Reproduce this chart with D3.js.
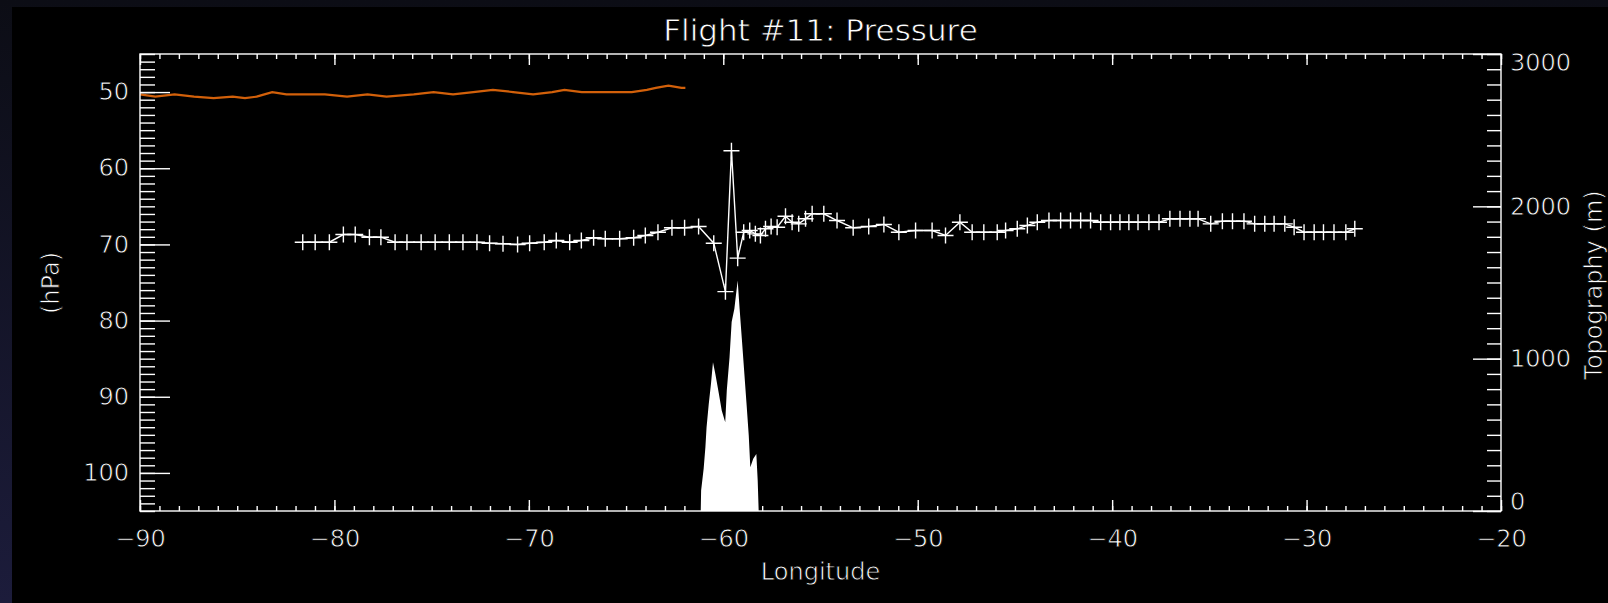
<!DOCTYPE html>
<html>
<head>
<meta charset="utf-8">
<script src="https://cdn.jsdelivr.net/npm/d3@7"></script>
<style>
  body { margin: 0; background: #000; }
  /* thin the glyphs a little with a black outline, closer to the vector font */
  text { font-family: "DejaVu Sans", sans-serif; fill: #fff; stroke: #000; stroke-width: 0.8px; }
</style>
</head>
<body>
<div id="chart"></div>
<script>
// Flight #11 pressure vs longitude, with topography on a second axis

const W = 1608, H = 603;
const margin = { top: 54, left: 140, right: 107, bottom: 92 };

// orange pressure trace (hPa)
const pressLon = [-90, -89.21, -88.22, -87.22, -86.21, -85.23, -84.6, -84.0, -83.6, -83.2,
    -82.47, -81.48, -80.49, -79.35, -78.3, -77.32, -75.92, -74.9, -73.9, -72.86,
    -71.85, -70.81, -69.78, -68.8, -68.17, -67.28, -66.05, -64.71, -63.93, -63.47,
    -62.82, -62.15, -61.95];
const pressVal = [50.3, 50.6, 50.3, 50.6, 50.8, 50.6, 50.8, 50.6, 50.3, 50.0,
    50.3, 50.3, 50.3, 50.6, 50.3, 50.6, 50.3, 50.0, 50.3, 50.0,
    49.7, 50.0, 50.3, 50.0, 49.7, 50.0, 50.0, 50.0, 49.7, 49.45,
    49.15, 49.45, 49.45];

// white trace with + markers (hPa)
const flightLon = [-81.63, -80.99, -80.26, -79.54, -78.93, -78.20, -77.61, -76.88, -76.27, -75.54,
    -74.82, -74.09, -73.39, -72.67, -72.02, -71.33, -70.58, -69.96, -69.21, -68.59,
    -67.90, -67.30, -66.67, -66.07, -65.33, -64.61, -64.01, -63.36, -62.64, -61.99,
    -61.27, -60.49, -59.89, -59.58, -59.26, -58.95, -58.64, -58.35, -58.09, -57.83,
    -57.54, -57.23, -56.80, -56.46, -56.12, -55.77, -55.43, -54.83, -54.15, -53.32,
    -52.52, -51.74, -50.97, -50.11, -49.26, -48.57, -47.83, -47.20, -46.60, -45.91,
    -45.48, -44.88, -44.36, -43.85, -43.25, -42.65, -42.14, -41.62, -41.11, -40.59,
    -40.08, -39.60, -39.14, -38.67, -38.11, -37.59, -37.03, -36.51, -36.00, -35.58,
    -34.93, -34.33, -33.81, -33.22, -32.67, -32.15, -31.67, -31.12, -30.64, -30.13,
    -29.61, -29.13, -28.59, -27.98, -27.52];
const flightP = [69.71, 69.71, 69.71, 68.70, 68.70, 69.05, 69.05, 69.71, 69.71, 69.71,
    69.71, 69.71, 69.71, 69.71, 69.84, 69.92, 70.01, 69.84, 69.71, 69.48,
    69.71, 69.48, 69.13, 69.26, 69.26, 69.13, 68.83, 68.40, 67.82, 67.82,
    67.65, 69.84, 76.2, 57.7, 71.8, 68.40, 68.17, 68.61, 68.83, 67.95,
    67.65, 67.74, 66.3, 67.08, 67.30, 66.64, 65.98, 65.98, 66.86, 67.82,
    67.65, 67.38, 68.40, 68.17, 68.17, 68.83, 67.08, 68.40, 68.40, 68.40,
    68.17, 67.95, 67.51, 67.08, 66.86, 66.86, 66.86, 66.86, 66.86, 67.08,
    67.08, 67.08, 67.08, 67.08, 67.08, 67.08, 66.64, 66.64, 66.64, 66.64,
    67.30, 66.95, 66.95, 66.95, 67.30, 67.30, 67.30, 67.30, 67.74, 68.40,
    68.40, 68.40, 68.40, 68.40, 67.95];

// topography (m)
const topoLon = [-90, -61.16, -61.14, -61.01, -60.92, -60.86, -60.75, -60.63, -60.53, -60.41,
    -60.24, -60.08, -59.9, -59.82, -59.68, -59.57, -59.43, -59.26, -59.16, -59.05,
    -58.94, -58.81, -58.69, -58.61, -58.46, -58.3, -58.23, -58.18, -20];
const topoElev = [0, 0, 135, 277, 419, 550, 699, 839, 977, 901,
    780, 660, 583, 791, 1006, 1240, 1328, 1513, 1328, 1137,
    944, 714, 496, 288, 343, 375, 200, 0, 0];

const lonTicks = [-90, -80, -70, -60, -50, -40, -30, -20];
const pTicks = [50, 60, 70, 80, 90, 100];
const topoTicks = [0, 1000, 2000, 3000];

const iw = W - margin.left - margin.right;
const ih = H - margin.top - margin.bottom;

const x = d3.scaleLinear().domain([-90, -20]).range([0, iw]);
const y = d3.scaleLinear().domain([45, 105]).range([0, ih]);
const yTopo = d3.scaleLinear().domain([0, 3000]).range([ih, 0]);

const svg = d3.select("#chart").append("svg")
    .attr("width", W)
    .attr("height", H);

// window frame
const grad = svg.append("defs").append("linearGradient")
    .attr("id", "frame").attr("x1", 0).attr("y1", 0).attr("x2", 0).attr("y2", 1);
grad.append("stop").attr("offset", "0%").attr("stop-color", "#0c0d15");
grad.append("stop").attr("offset", "100%").attr("stop-color", "#1c1c3b");
svg.append("rect").attr("width", W).attr("height", H).attr("fill", "url(#frame)");
svg.append("rect").attr("x", 12).attr("y", 7).attr("width", W - 12).attr("height", H - 7).attr("fill", "#000");

const g = svg.append("g")
    .attr("transform", "translate(" + margin.left + "," + margin.top + ")");

// topography fill
const topo = topoLon.map((d, i) => ({ lon: d, h: topoElev[i] }));
g.append("path")
    .datum(topo)
    .attr("fill", "#fff")
    .attr("d", d3.area()
        .x(d => x(d.lon))
        .y0(yTopo(0))
        .y1(d => yTopo(d.h)));

// orange trace
const press = pressLon.map((d, i) => ({ lon: d, p: pressVal[i] }));
g.append("path")
    .datum(press)
    .attr("fill", "none")
    .attr("stroke", "#d2600a")
    .attr("stroke-width", 2.2)
    .attr("d", d3.line().x(d => x(d.lon)).y(d => y(d.p)));

// white trace + crosses
const flight = flightLon.map((d, i) => ({ lon: d, p: flightP[i] }));
g.append("path")
    .datum(flight)
    .attr("fill", "none")
    .attr("stroke", "#fff")
    .attr("stroke-width", 1.4)
    .attr("d", d3.line().x(d => x(d.lon)).y(d => y(d.p)));

g.append("g").selectAll("path")
    .data(flight)
    .enter()
    .append("path")
    .attr("stroke", "#fff")
    .attr("stroke-width", 1.4)
    .attr("d", function(d) {
        const cx = x(d.lon), cy = y(d.p);
        return "M" + (cx - 8) + "," + cy + "H" + (cx + 8) + "M" + cx + "," + (cy - 8) + "V" + (cy + 8);
    });

function style(sel) {
    sel.select(".domain").remove();
    sel.selectAll("line").attr("stroke", "#fff").attr("stroke-width", 1.4);
    sel.selectAll("text").attr("fill", "#fff").style("font-size", "24px")
        .style("font-family", "DejaVu Sans, sans-serif");
}

const minorLon = d3.range(-90, -19, 1);
const minorP = d3.range(45, 106, 1);
const minorTopo = d3.range(0, 3001, 100);

// bottom axis
g.append("g").attr("transform", "translate(0," + ih + ")")
    .call(d3.axisBottom(x).tickValues(minorLon).tickSize(-5).tickFormat("")).call(style);
g.append("g").attr("transform", "translate(0," + ih + ")")
    .call(d3.axisBottom(x).tickValues(lonTicks).tickSize(-11).tickPadding(19)
        .tickFormat(d => String(d).replace("-", "\u2212"))).call(style);

// top axis
g.append("g")
    .call(d3.axisTop(x).tickValues(minorLon).tickSize(-5).tickFormat("")).call(style);
g.append("g")
    .call(d3.axisTop(x).tickValues(lonTicks).tickSize(-11).tickFormat("")).call(style);

// left axis
g.append("g")
    .call(d3.axisLeft(y).tickValues(minorP).tickSize(-15).tickFormat("")).call(style);
g.append("g")
    .call(d3.axisLeft(y).tickValues(pTicks).tickSize(-30).tickPadding(11)).call(style);

// right axis (topography)
g.append("g").attr("transform", "translate(" + iw + ",0)")
    .call(d3.axisRight(yTopo).tickValues(minorTopo).tickSize(-14).tickFormat("")).call(style);
const right = g.append("g").attr("transform", "translate(" + iw + ",0)")
    .call(d3.axisRight(yTopo).tickValues(topoTicks).tickSize(-28).tickPadding(9)
        .tickFormat(d3.format("d"))).call(style);
// keep end labels inside the frame
right.selectAll("text")
    .attr("y", d => Math.min(Math.max(yTopo(d), 9), ih - 9) - yTopo(d));

// frame
g.append("rect")
    .attr("width", iw).attr("height", ih)
    .attr("fill", "none")
    .attr("stroke", "#fff")
    .attr("stroke-width", 1.4);

// titles
svg.append("text")
    .attr("x", margin.left + iw / 2)
    .attr("y", 41)
    .attr("text-anchor", "middle")
    .style("font-size", "31px")
    .text("Flight #11: Pressure");

svg.append("text")
    .attr("x", margin.left + iw / 2)
    .attr("y", 580)
    .attr("text-anchor", "middle")
    .style("font-size", "24px")
    .text("Longitude");

svg.append("text")
    .attr("transform", "translate(51,283) rotate(-90)")
    .attr("dy", "0.35em")
    .attr("text-anchor", "middle")
    .style("font-size", "24px")
    .text("(hPa)");

svg.append("text")
    .attr("transform", "translate(1594,285) rotate(-90)")
    .attr("dy", "0.35em")
    .attr("text-anchor", "middle")
    .style("font-size", "24px")
    .text("Topography (m)");
</script>
</body>
</html>
